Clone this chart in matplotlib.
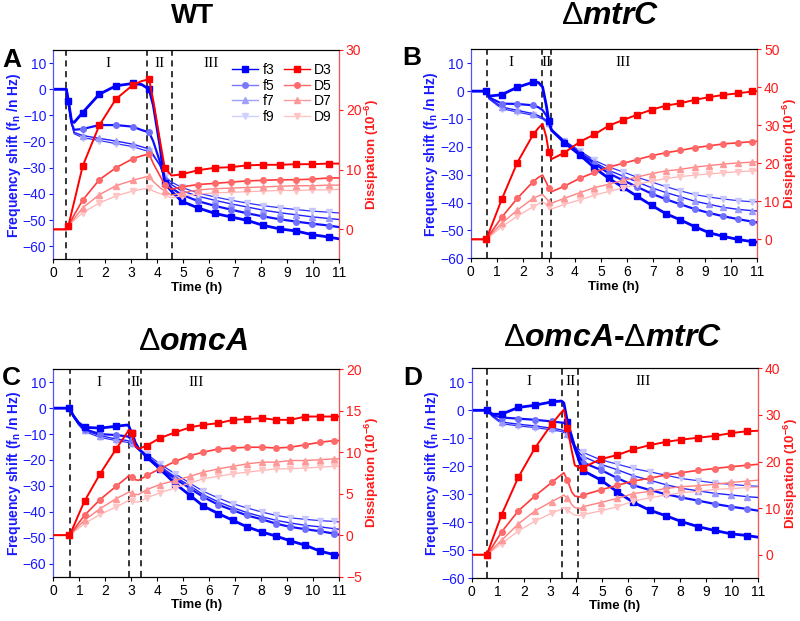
import matplotlib.pyplot as plt
from matplotlib.lines import Line2D

plt.rcParams['font.family'] = ['Liberation Sans', 'DejaVu Sans']
plt.rcParams['mathtext.fontset'] = 'custom'
plt.rcParams['mathtext.rm'] = 'Liberation Sans'
plt.rcParams['mathtext.bf'] = 'Liberation Sans:bold'
plt.rcParams['mathtext.it'] = 'Liberation Sans:italic:bold'

# ---- A: WT ----
t_A = [0, 0.5, 0.58, 0.7, 0.8, 1.13, 1.77, 2.41, 3.05, 3.4, 3.69, 3.85, 4.1, 4.29, 4.55,
       4.94, 5.58, 6.23, 6.83, 7.45, 8.07, 8.72, 9.35, 9.97, 10.6, 11]
f3_A = [0, 0, -4.6, -12.2, -12.7, -8.9, -1.9, 1.3, 2.2, 1.8, 0, -6.1, -21.3, -35.9, -39,
        -42.8, -45.4, -47.5, -48.8, -50.1, -52, -53.4, -54.2, -55.6, -56.5, -57.2]
f5_A = [0, 0, -4.6, -13, -15.5, -15.2, -13.7, -13.7, -14.3, -15.6, -16.5, -20, -27.6, -34.6, -37.8,
        -40.3, -42.8, -44.6, -46, -47.4, -48.6, -49.7, -50.6, -51.4, -52.1, -52.7]
f7_A = [0, 0, -4.6, -13, -16.5, -17.7, -18.8, -19.8, -21, -22, -22.8, -25, -29, -34, -36.5,
        -38.8, -40.9, -42.5, -43.8, -45, -46.2, -47.2, -48, -48.8, -49.4, -49.8]
f9_A = [0, 0, -4.6, -13, -17, -18.5, -19.6, -20.8, -21.9, -23, -23.8, -25.5, -29, -33.3, -35.5,
        -37.5, -39.7, -41.2, -42.4, -43.5, -44.5, -45.3, -46, -46.6, -47, -47.3]
D3_A = [0, 0, 0.6, 2.8, 4.6, 10.6, 17.4, 21.8, 24.1, 24.8, 25.1, 21.5, 15, 10.3, 9.0,
        9.2, 9.9, 10.3, 10.4, 10.7, 10.8, 10.8, 10.9, 10.9, 11, 11]
D5_A = [0, 0, 0.6, 1.6, 2.4, 4.9, 8.3, 10.3, 11.8, 12.3, 12.6, 11, 9, 7.5, 6.7,
        7.1, 7.5, 7.7, 7.9, 8.1, 8.2, 8.3, 8.3, 8.4, 8.6, 8.6]
D7_A = [0, 0, 0.6, 1.3, 1.8, 3.6, 5.8, 7.3, 8.2, 8.6, 8.9, 8, 7, 6.4, 5.7,
        6.1, 6.6, 6.8, 6.9, 7, 7.1, 7.2, 7.3, 7.3, 7.4, 7.4]
D9_A = [0, 0, 0.6, 1.1, 1.5, 2.8, 4.4, 5.6, 6.4, 6.7, 6.9, 6.4, 6, 5.7, 5.3,
        5.6, 5.9, 6.1, 6.2, 6.3, 6.4, 6.5, 6.5, 6.6, 6.6, 6.7]
mk_A = [2, 5, 6, 7, 8, 10, 13, 15, 16, 17, 18, 19, 20, 21, 22, 23, 24]

# ---- B: dmtrC ----
t_B = [0, 0.6, 0.7, 1.19, 1.79, 2.4, 2.6, 2.76, 2.9, 3.0, 3.1, 3.6, 4.2, 4.75, 5.3,
       5.85, 6.4, 6.95, 7.5, 8.05, 8.6, 9.15, 9.7, 10.25, 10.8, 11]
f3_B = [0, 0, -1.8, -1.3, 1.4, 3.2, 3.1, 1.5, -5, -10.8, -14, -18.5, -23, -27.5, -31.3,
        -34.5, -37.8, -41, -44, -46.2, -48.6, -50.8, -52.1, -53.2, -54, -54.2]
f5_B = [0, 0, -2.2, -4.5, -4.6, -5.1, -5.8, -6.8, -8.7, -10.8, -13.8, -18.3, -22.5, -26, -29.5,
        -32, -34.4, -36.8, -38.8, -40.6, -42.3, -43.7, -44.9, -45.9, -46.8, -47.1]
f7_B = [0, 0, -2.5, -5.7, -6.9, -8.1, -8.8, -9.5, -10.5, -11.5, -13.8, -18, -22, -25.5, -28.4,
        -30.5, -32.6, -34.7, -36.4, -37.9, -39.5, -40.6, -41.7, -42.4, -42.9, -43]
f9_B = [0, 0, -2.8, -6.3, -7.5, -8.7, -9.4, -10, -11, -12, -13.8, -17.8, -21.5, -24.8, -27.2,
        -29, -30.9, -32.6, -34.3, -35.8, -37.1, -38, -38.7, -39.3, -39.7, -39.7]
D3_B = [0, 0, 1.8, 10.5, 20.2, 27.6, 29.3, 30.4, 27, 22.9, 21.1, 22.8, 25.7, 27.6, 29.9,
        31.4, 32.8, 34.1, 35.2, 35.8, 36.7, 37.4, 38, 38.4, 38.9, 39]
D5_B = [0, 0, 1, 5.8, 10.8, 15.2, 16.3, 16.9, 15, 13.4, 12.5, 14, 16.1, 17.6, 19,
        20, 21, 22, 22.8, 23.4, 24.1, 24.6, 25.1, 25.4, 25.7, 25.8]
D7_B = [0, 0, 0.8, 4.2, 7.7, 10.8, 11.4, 11.8, 10.8, 9.9, 9.5, 10.8, 12.3, 13.6, 14.5,
        15.5, 16.4, 17.3, 18, 18.4, 19, 19.4, 19.8, 20.1, 20.3, 20.4]
D9_B = [0, 0, 0.6, 3.3, 6.1, 8.6, 9.3, 9.9, 9.2, 8.6, 8, 9.2, 10.4, 11.6, 12.6,
        13.5, 14.5, 15.3, 16, 16.5, 16.9, 17.2, 17.5, 17.8, 18, 18]
mk_B = [1, 3, 4, 5, 9, 11, 12, 13, 14, 15, 16, 17, 18, 19, 20, 21, 22, 23, 24]

# ---- C: domcA ----
t_C = [0, 0.62, 0.77, 0.96, 1.2, 1.8, 2.42, 2.85, 2.9, 3.02, 3.15, 3.28, 3.6, 4.1, 4.7,
       5.27, 5.78, 6.36, 6.92, 7.46, 8.04, 8.59, 9.13, 9.71, 10.28, 10.82, 11]
f3_C = [0, 0, -2.9, -5.5, -7.4, -7.7, -7, -6.5, -6.8, -9.7, -13.2, -15.5, -18.9, -23.4, -29.2,
        -33.7, -37.8, -40.7, -43.3, -45.8, -47.8, -49.4, -51.2, -52.9, -55.2, -56.5, -56.7]
f5_C = [0, 0, -3, -5.7, -8.1, -10, -10.4, -10.9, -11.2, -12.2, -14, -15.8, -18.7, -23.2, -27.3,
        -31, -34.3, -37.3, -39.4, -41.4, -42.9, -44.6, -45.8, -46.7, -47.5, -48.4, -48.8]
f7_C = [0, 0, -3, -6, -8.5, -10.6, -11.9, -12.5, -12.7, -13.3, -14.5, -15.8, -18.3, -22.4, -26.6,
        -30, -33.4, -36.2, -38.4, -40.3, -41.9, -43.3, -44.3, -45.2, -45.8, -46.5, -46.7]
f9_C = [0, 0, -3.2, -6.3, -9, -11.3, -12.5, -13.2, -13.4, -14, -15, -16, -17.7, -21.5, -25.4,
        -29, -32.1, -34.7, -36.9, -38.5, -40.1, -41.4, -42.3, -42.9, -43.4, -43.7, -43.9]
D3_C = [0, 0, 1.0, 2.4, 4.1, 7.4, 10.4, 12.4, 12.7, 12.3, 10.8, 10.4, 10.8, 11.7, 12.4,
        13, 13.3, 13.5, 13.9, 14, 14.1, 13.9, 13.9, 14.3, 14.3, 14.3, 14.3]
D5_C = [0, 0, 0.6, 1.4, 2.4, 4.3, 5.9, 7.0, 7.2, 7.0, 6.7, 6.6, 7.2, 8, 8.9,
        9.6, 10, 10.4, 10.5, 10.6, 10.6, 10.5, 10.6, 10.9, 11.2, 11.4, 11.4]
D7_C = [0, 0, 0.45, 1.05, 1.8, 3.2, 4.4, 5.1, 5.2, 5.1, 4.9, 4.9, 5.5, 6.1, 6.6,
        7.1, 7.6, 8, 8.3, 8.6, 8.8, 8.8, 9, 9, 9.1, 9.2, 9.2]
D9_C = [0, 0, 0.35, 0.8, 1.4, 2.5, 3.4, 4.1, 4.2, 4.1, 4.0, 4.0, 4.5, 5.1, 5.7,
        6.3, 6.8, 7.1, 7.4, 7.6, 7.8, 8, 8, 8.1, 8.2, 8.3, 8.3]
mk_C = [1, 4, 5, 6, 9, 12, 13, 14, 15, 16, 17, 18, 19, 20, 21, 22, 23, 24, 25]

# ---- D: domcA-dmtrC ----
t_D = [0, 0.58, 0.8, 1.15, 1.79, 2.43, 3.07, 3.45, 3.54, 3.68, 3.84, 3.96, 4.16, 4.28, 4.95,
       5.6, 6.2, 6.83, 7.45, 8.05, 8.69, 9.33, 9.97, 10.58, 11]
f3_D = [0, 0, -1.4, -1.4, 1, 1.8, 3, 3.3, 2.6, -4.2, -9.8, -13.5, -19, -21.6, -24.9,
        -29.2, -32.9, -35.7, -37.7, -39.8, -41.6, -43, -44.2, -44.8, -45.4]
f5_D = [0, 0, -1.8, -2.6, -3, -3.4, -4, -4.4, -4.5, -4.8, -9, -13, -17, -18.7, -21.3,
        -24.3, -26.8, -28.5, -30, -31.2, -32.3, -33.5, -34.5, -35.3, -35.9]
f7_D = [0, 0, -2, -4.2, -5, -5.6, -6.4, -7, -7.4, -8.5, -11, -13, -15.5, -16.5, -19.3,
        -21.3, -23.4, -25, -26.6, -27.9, -28.8, -29.7, -30.3, -30.9, -31.2]
f9_D = [0, 0, -2.3, -4.8, -5.6, -6.2, -7, -7.6, -8, -9, -11.5, -12.7, -14.3, -15.1, -17.7,
        -19.3, -20.8, -22, -23.2, -24.4, -25.2, -26, -26.5, -27, -27.2]
D3_D = [0, 0, 3.3, 8.6, 16.6, 22.9, 28, 30.6, 31.1, 27.1, 22.4, 19.2, 18.6, 18.7, 20.5,
        21.4, 22.6, 23.5, 24.2, 24.7, 25.1, 25.5, 26.1, 26.5, 26.6]
D5_D = [0, 0, 1.8, 4.9, 9.4, 12.6, 15.5, 17.2, 17.6, 16, 13.5, 12.6, 12.4, 12.8, 13.9,
        14.9, 15.8, 16.4, 17.1, 17.6, 18.1, 18.5, 18.9, 19.2, 19.4]
D7_D = [0, 0, 1.2, 3.1, 6.6, 9.4, 11.4, 12.5, 12.8, 12.1, 10.8, 10.1, 9.9, 10.3, 11.2,
        12.1, 13.1, 13.6, 14.2, 14.6, 14.8, 15.1, 15.5, 15.8, 16]
D9_D = [0, 0, 0.9, 2.4, 5.1, 7.2, 8.9, 9.8, 10.1, 9.6, 8.9, 8.5, 8.4, 8.6, 9.4,
        10.3, 11.5, 12.2, 12.8, 13.3, 13.6, 14, 14.2, 14.4, 14.5]
mk_D = [1, 3, 4, 5, 6, 9, 13, 14, 15, 16, 17, 18, 19, 20, 21, 22, 23]

# stage boundaries (h) and stage label positions
stages_A = [0.5, 3.59, 4.57]
stages_B = [0.64, 2.74, 3.09]
stages_C = [0.66, 2.9, 3.38]
stages_D = [0.6, 3.45, 4.1]
roman_x_A = [2.09, 4.08, 6.09]
roman_x_B = [1.55, 2.92, 5.86]
roman_x_C = [1.77, 3.15, 5.49]
roman_x_D = [2.2, 3.8, 6.6]
roman = ['I', 'II', 'III']

f_names = ['f3', 'f5', 'f7', 'f9']
d_names = ['D3', 'D5', 'D7', 'D9']
markers = ['s', 'o', '^', 'v']
f_line = ['#0000ff', '#1010ff', '#2020ff', '#3030ff']
f_mark = ['#0000ff', '#7070ff', '#9a9aff', '#c8c8ff']
f_leg = ['#0000ff', '#7a7aff', '#a0a0ff', '#d0d0ff']
f_lw = [2.0, 1.6, 1.0, 0.9]
d_line = ['#ff0000', '#ff3a3a', '#ff8080', '#ffb4b4']
d_mark = ['#ff0000', '#ff6a6a', '#ff9a9a', '#ffc4c4']
d_leg = ['#ff0000', '#ff6a6a', '#ff9a9a', '#ffc4c4']
d_lw = [1.4, 1.2, 1.0, 0.9]

BLUE = '#1a1aff'
RED = '#ff1a1a'


def panel(rect, t, fs, ds, mk, flim, dlim, dticks, stages, rx, legend=False):
    ax = fig.add_axes(rect)
    ax2 = ax.twinx()
    for i in range(4):
        ax.plot(t, fs[i], color=f_line[i], lw=f_lw[i], marker=markers[i], ms=4,
                mfc=f_mark[i], mec=f_mark[i], markevery=mk, zorder=5 - i)
        ax2.plot(t, ds[i], color=d_line[i], lw=d_lw[i], marker=markers[i], ms=4,
                 mfc=d_mark[i], mec=d_mark[i], markevery=mk, zorder=5 - i)
    for x in stages:
        ax.axvline(x, color='black', ls=(0, (4, 3)), lw=1.1, zorder=1)
    for x, s in zip(rx, roman):
        ax.text(x, 0.935, s, transform=ax.get_xaxis_transform(), ha='center', va='center',
                family='Liberation Serif', fontsize=11)

    ax.set_xlim(0, 11)
    ax.set_xticks(range(0, 12))
    ax.set_ylim(*flim)
    ax.set_yticks(range(-60, 11, 10))
    ax2.set_ylim(*dlim)
    ax2.set_yticks(dticks)

    ax.tick_params(axis='x', labelsize=10, length=3, direction='out', pad=2)
    ax.tick_params(axis='y', labelsize=10, length=3, direction='out', colors=BLUE, pad=2)
    ax2.tick_params(axis='y', labelsize=10, length=3, direction='out', colors=RED, pad=2)
    ax.spines['left'].set_color('#5050ff')
    ax2.spines['left'].set_color('#5050ff')
    ax2.spines['right'].set_color('#ff5050')
    ax.set_xlabel('Time (h)', fontsize=9.5, fontweight='bold', labelpad=1)
    ax.set_ylabel(r'Frequency shift (f$_\mathbf{n}$ /n Hz)', fontsize=10, fontweight='bold',
                  color=BLUE, labelpad=0)
    ax2.set_ylabel(r'Dissipation (10$^\mathbf{-6}$)', fontsize=9.5, fontweight='bold',
                   color=RED, labelpad=1)

    if legend:
        handles = []
        labels = []
        for i in range(4):
            handles.append(Line2D([], [], color=f_leg[i], lw=1, marker=markers[i], ms=4))
            labels.append(f_names[i])
        for i in range(4):
            handles.append(Line2D([], [], color=d_leg[i], lw=1, marker=markers[i], ms=4))
            labels.append(d_names[i])
        ax.legend(handles, labels, ncol=2, frameon=False, fontsize=10, loc='upper right',
                  bbox_to_anchor=(1.01, 0.985), handlelength=1.9, handletextpad=0.3,
                  columnspacing=0.7, labelspacing=0.12, borderaxespad=0.3)
    return ax, ax2


fig = plt.figure(figsize=(8, 6.21), dpi=100)

panel([0.0667, 0.5825, 0.357, 0.337], t_A, [f3_A, f5_A, f7_A, f9_A],
      [D3_A, D5_A, D7_A, D9_A], mk_A, (-65, 15), (-5, 30), [0, 10, 20, 30],
      stages_A, roman_x_A, legend=True)
panel([0.5884, 0.584, 0.358, 0.3366], t_B, [f3_B, f5_B, f7_B, f9_B],
      [D3_B, D5_B, D7_B, D9_B], mk_B, (-60, 15), (-5, 50), [0, 10, 20, 30, 40, 50],
      stages_B, roman_x_B)
panel([0.0667, 0.0714, 0.357, 0.334], t_C, [f3_C, f5_C, f7_C, f9_C],
      [D3_C, D5_C, D7_C, D9_C], mk_C, (-65, 15), (-5, 20), [-5, 0, 5, 10, 15, 20],
      stages_C, roman_x_C)
panel([0.5896, 0.0692, 0.358, 0.3377], t_D, [f3_D, f5_D, f7_D, f9_D],
      [D3_D, D5_D, D7_D, D9_D], mk_D, (-60, 15), (-5, 40), [0, 10, 20, 30, 40],
      stages_D, roman_x_D)

# titles and panel letters
fig.text(193 / 800, 1 - 16 / 621, 'WT', ha='center', va='center', fontsize=20, fontweight='bold')
fig.text(610 / 800, 1 - 16 / 621, r'$\Delta\mathit{mtrC}$', ha='center', va='center', fontsize=23)
fig.text(193 / 800, 1 - 342 / 621, r'$\Delta\mathit{omcA}$', ha='center', va='center', fontsize=23)
fig.text(613 / 800, 1 - 338 / 621, r'$\Delta\mathit{omcA}$-$\Delta\mathit{mtrC}$',
         ha='center', va='center', fontsize=23, fontweight='bold')
for x, y, s in [(2, 60, 'A'), (402, 58, 'B'), (2, 378, 'C'), (403, 378, 'D')]:
    fig.text(x / 800, 1 - y / 621, s, ha='left', va='center', fontsize=19, fontweight='bold')

fig.savefig('out.png', dpi=100)
